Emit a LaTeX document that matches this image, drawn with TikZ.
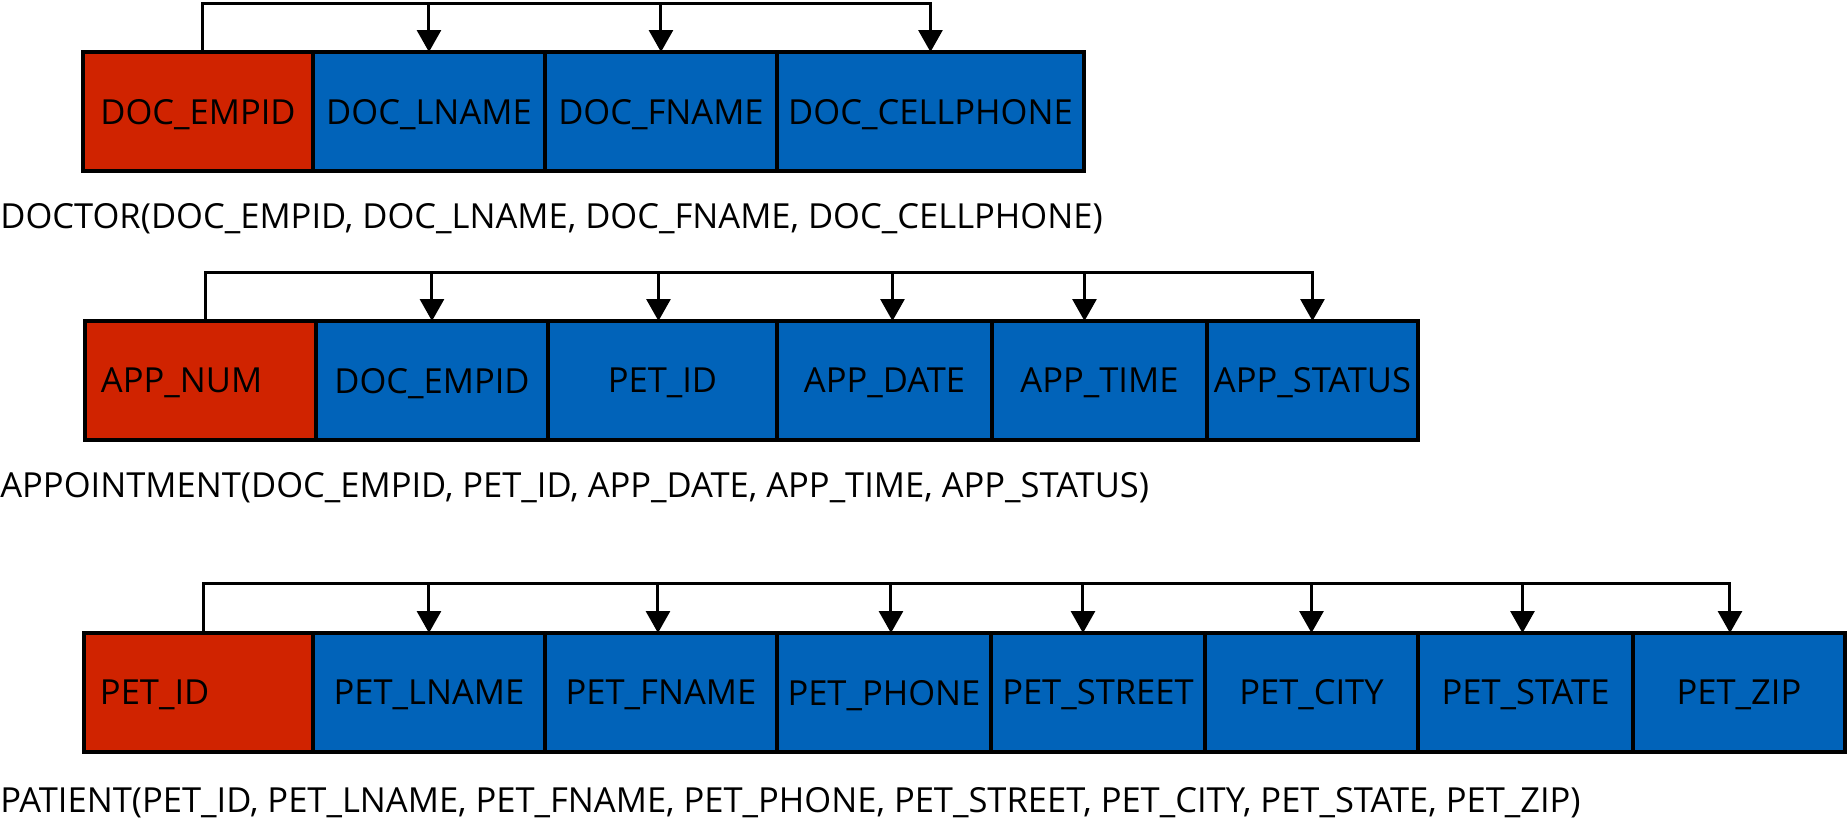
\documentclass[tikz,border=0pt]{standalone}
\usepackage{fontspec}
\setmainfont{Open Sans}
\usepackage{tikz}
\usetikzlibrary{arrows.meta}
\usepackage{xcolor}
\definecolor{keyred}{RGB}{208,35,0}
\definecolor{fldblue}{RGB}{1,99,185}

\begin{document}
\begin{tikzpicture}[x=0.02cm, y=-0.02cm,
                  fld/.style={draw, line width=0.08cm, fill=fldblue, anchor=north west,
                              outer sep=0pt, inner sep=0pt, text depth=0pt,
                              font=\fontsize{19.65}{20}\selectfont, minimum height=2.38cm},
                  pk/.style={fld, fill=keyred},
                  rel/.style={anchor=base west, inner sep=0pt, font=\fontsize{19.65}{20}\selectfont},
                  dep/.style={line width=0.06cm, -{Triangle[width=0.48cm, length=0.44cm]}},
            ]
            \useasboundingbox (0,0) rectangle (1847,821);

            % ---- DOCTOR ----
            \node[pk, minimum width=4.60cm] (dK) at (83,52) {DOC\_EMPID};
            \foreach \n/\x/\w/\lab in {
                        dL/313/4.64/DOC\_LNAME, dF/545/4.64/DOC\_FNAME,
                        dC/777/6.14/DOC\_CELLPHONE}{
                        \node[fld, minimum width=\w cm] (\n) at (\x,52) {\lab};
                  }
            \node[rel] (dRel) at (0,229) {DOCTOR(DOC\_EMPID, DOC\_LNAME, DOC\_FNAME, DOC\_CELLPHONE)};

            \foreach \t in {dL, dF, dC}{
                        \draw[dep] ([xshift=0.1cm]dK.north) -- ([xshift=0.1cm, yshift=0.98cm]dK.north) -| (\t.north);
                  }

            % ---- APPOINTMENT ----
            \node[pk, minimum width=4.62cm, text width=3.98cm, align=left, inner xsep=0.32cm] (aK) at (85,321) {APP\_NUM};
            \foreach \n/\x/\w/\lab in {
                        aE/316/4.64/DOC\_EMPID, aP/548/4.58/PET\_ID, aD/777/4.30/APP\_DATE,
                        aT/992/4.30/APP\_TIME, aS/1207/4.22/APP\_STATUS}{
                        \node[fld, minimum width=\w cm] (\n) at (\x,321) {\lab};
                  }
            \node[rel] (aRel) at (0,497) {APPOINTMENT(DOC\_EMPID, PET\_ID, APP\_DATE, APP\_TIME, APP\_STATUS)};

            \foreach \t/\dx in {aE/0, aP/-0.08, aD/0.16, aT/-0.3, aS/0}{
                        \draw[dep] ([xshift=0.1cm]aK.north) -- ([xshift=0.1cm, yshift=0.98cm]aK.north) -| ([xshift=\dx cm]\t.north);
                  }

            % ---- PATIENT ----
            \node[pk, minimum width=4.58cm, text width=3.94cm, align=left, inner xsep=0.32cm] (pK) at (84,633) {PET\_ID};
            \foreach \n/\x/\w/\lab in {
                        pL/313/4.64/PET\_LNAME, pF/545/4.64/PET\_FNAME, pP/777/4.28/PET\_PHONE,
                        pS/991/4.28/PET\_STREET, pC/1205/4.26/PET\_CITY, pT/1418/4.30/PET\_STATE,
                        pZ/1633/4.24/PET\_ZIP}{
                        \node[fld, minimum width=\w cm] (\n) at (\x,633) {\lab};
                  }
            \node[rel] (pRel) at (0,812) {PATIENT(PET\_ID, PET\_LNAME, PET\_FNAME, PET\_PHONE, PET\_STREET, PET\_CITY, PET\_STATE, PET\_ZIP)};

            \foreach \t/\dx in {pL/0, pF/-0.06, pP/0.14, pS/-0.3, pC/0, pT/-0.06, pZ/-0.18}{
                        \draw[dep] ([xshift=0.1cm]pK.north) -- ([xshift=0.1cm, yshift=1.0cm]pK.north) -| ([xshift=\dx cm]\t.north);
                  }

      \end{tikzpicture}
\end{document}
